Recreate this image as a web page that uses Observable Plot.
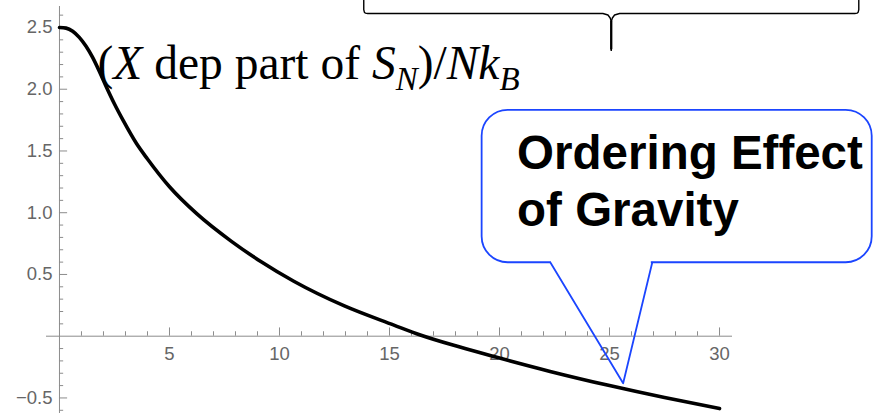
<!DOCTYPE html>
<html>
<head>
<meta charset="utf-8">
<script src="https://cdn.jsdelivr.net/npm/d3@7"></script>
<script src="https://cdn.jsdelivr.net/npm/@observablehq/plot@0.6"></script>
<style>
  body { margin: 0; background: #fff; }
  svg { display: block; overflow: visible; }
</style>
</head>
<body>
<script>
// Entropy curve: X-dependent part of S_N / N k_B
const xValues = [0, 0.3, 0.6, 0.9, 1.2, 1.5, 1.8, 2.1, 2.5, 2.9, 3.5, 4.0, 5.0, 6.25, 7.8, 9.15, 10.65, 12.95, 15.2, 16.4, 18.2, 19.75, 22.3, 25, 27.5, 30];
const yValues = [2.5, 2.495, 2.47, 2.42, 2.35, 2.26, 2.15, 2.03, 1.88, 1.745, 1.56, 1.435, 1.21, 0.99, 0.77, 0.605, 0.445, 0.245, 0.09, 0.01, -0.088, -0.165, -0.285, -0.40, -0.497, -0.586];

// Axis ticks
const xMajorTicks = [5, 10, 15, 20, 25, 30];
const xTickLabels = ["5", "10", "15", "20", "25", "30"];
const yMajorTicks = [-0.5, 0.5, 1.0, 1.5, 2.0, 2.5];
const yTickLabels = ["\u22120.5", "0.5", "1.0", "1.5", "2.0", "2.5"];
const xMinorTicks = d3.range(1, 31).filter(v => v % 5 !== 0);
const yMinorTicks = d3.range(-6, 27).map(v => v / 10).filter(v => Math.round(v * 10) % 5 !== 0);

// Annotation text
const labelParts = [
  {text: "(", italic: false, sub: false},
  {text: "X", italic: true, sub: false},
  {text: " dep part of ", italic: false, sub: false},
  {text: "S", italic: true, sub: false},
  {text: "N", italic: true, sub: true},
  {text: ")/", italic: false, sub: false},
  {text: "N", italic: true, sub: false},
  {text: "k", italic: true, sub: false},
  {text: "B", italic: true, sub: true}
];
const labelText = labelParts.map(p => p.text).join("");
const calloutLines = ["Ordering Effect", "of Gravity"];

const curve = xValues.map((x, i) => ({x, y: yValues[i]}));

const axisGray = "#8c8c8c";
const labelGray = "#666666";
const calloutBlue = "#1b45ff";

// Curly brace at the top, built symmetric around its spike
const braceMid = 25.08;
const braceLeft = [
  [13.83, 2.72], [13.83, 2.645], [13.857, 2.624], [13.91, 2.616], [14.01, 2.613],
  [24.70, 2.613], [24.93, 2.601], [25.03, 2.577], [25.08, 2.548], [25.08, 2.315]
];
const braceRight = braceLeft.map(([x, y]) => [2 * braceMid - x, y]);

const svg = Plot.plot({
  width: 873,
  height: 413,
  marginLeft: 46,
  marginRight: 141,
  marginTop: 6,
  marginBottom: 0,
  x: {domain: [-0.59, 30.59], axis: null},
  y: {domain: [-0.626, 2.67], axis: null},
  style: {background: "#fff"},
  marks: [
    // axes
    Plot.ruleY([0], {x1: -0.59, x2: 30.59, stroke: axisGray, strokeWidth: 1}),
    Plot.ruleX([0], {y1: -0.626, y2: 2.67, stroke: axisGray, strokeWidth: 1}),
    Plot.ruleX(xMajorTicks, {x: d => d, y1: 0, y2: 0.067, stroke: axisGray}),
    Plot.ruleX(xMinorTicks, {x: d => d, y1: 0, y2: 0.036, stroke: axisGray}),
    Plot.ruleY(yMajorTicks, {y: d => d, x1: 0, x2: 0.37, stroke: axisGray}),
    Plot.ruleY(yMinorTicks, {y: d => d, x1: 0, x2: 0.19, stroke: axisGray}),
    Plot.text(xMajorTicks, {x: d => d, y: 0, text: (d, i) => xTickLabels[i], lineAnchor: "top", dy: 11,
      fontFamily: "Liberation Sans, Arial, sans-serif", fontSize: 18.5, fill: labelGray}),
    Plot.text(yMajorTicks, {x: 0, y: d => d, text: (d, i) => yTickLabels[i], textAnchor: "end", lineAnchor: "middle", dx: -7,
      fontFamily: "Liberation Sans, Arial, sans-serif", fontSize: 18.5, fill: labelGray}),

    // entropy curve
    Plot.line(curve, {x: "x", y: "y", curve: "monotone-x", stroke: "black", strokeWidth: 3.6}),

    // curve label
    Plot.text([labelText], {x: 1.73, y: 2.085, text: d => d, textAnchor: "start", lineAnchor: "bottom",
      fontFamily: "Liberation Serif, Times New Roman, serif", fontSize: 47.5, fill: "black"}),

    // brace
    Plot.line(braceLeft, {x: d => d[0], y: d => d[1], stroke: "black", strokeWidth: 1.4}),
    Plot.line(braceRight, {x: d => d[0], y: d => d[1], stroke: "black", strokeWidth: 1.4}),
    Plot.ruleX([braceMid], {y1: 2.32, y2: 2.55, stroke: "black", strokeWidth: 2.2}),

    // callout
    Plot.rect([0], {x1: 19.21, x2: 36.94, y1: 0.595, y2: 1.829, rx: 26, fill: "white", stroke: calloutBlue, strokeWidth: 1.8}),
    Plot.ruleY([0.595], {x1: 22.36, x2: 26.9, stroke: "white", strokeWidth: 4}),
    Plot.line([[22.32, 0.595], [25.62, -0.381], [26.94, 0.595]], {x: d => d[0], y: d => d[1], stroke: calloutBlue, strokeWidth: 1.8}),
    Plot.text(calloutLines, {x: 20.8, y: (d, i) => [1.357, 0.895][i], text: d => d, textAnchor: "start", lineAnchor: "bottom",
      fontFamily: "Liberation Sans, Arial, sans-serif", fontWeight: "bold", fontSize: 47.5, fill: "black"})
  ]
});

// Rich formatting (italics and subscripts) for the curve label
d3.select(svg).selectAll("text").filter(function () { return this.textContent === labelText; }).each(function () {
  const t = d3.select(this);
  t.text(null);
  let shifted = false;
  labelParts.forEach(p => {
    const ts = t.append("tspan").text(p.text);
    if (p.italic) ts.attr("font-style", "italic");
    if (p.sub && !shifted) { ts.attr("dy", 11).attr("font-size", 33); shifted = true; }
    else if (p.sub) { ts.attr("font-size", 33); }
    else if (!p.sub && shifted) { ts.attr("dy", -11); shifted = false; }
  });
});

document.body.appendChild(svg);
</script>
</body>
</html>
